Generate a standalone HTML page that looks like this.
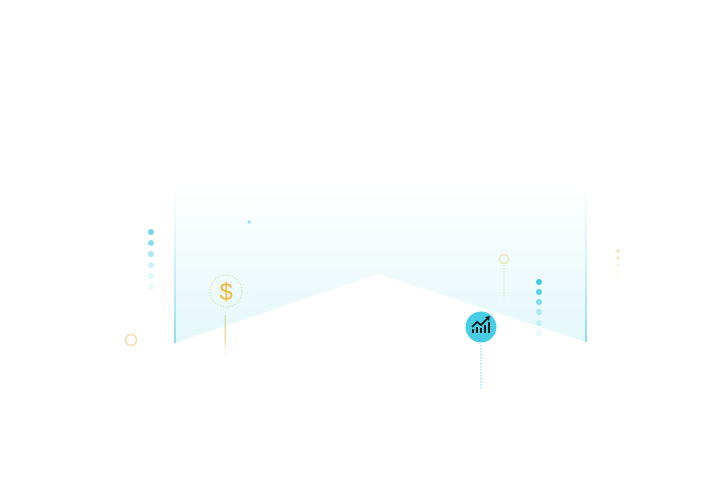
<!DOCTYPE html>
<html><head><meta charset="utf-8"><style>
html,body{margin:0;padding:0;background:#fff;width:711px;height:501px;overflow:hidden}
svg{display:block}
</style></head><body>
<svg width="711" height="501" viewBox="0 0 711 501" xmlns="http://www.w3.org/2000/svg">
<defs>
<linearGradient id="bg" x1="0" y1="0" x2="0" y2="1" gradientUnits="objectBoundingBox">
<stop offset="0" stop-color="#ffffff"/>
<stop offset="0.35" stop-color="#f5fcfd"/>
<stop offset="1" stop-color="#e4f7fa"/>
</linearGradient>
<linearGradient id="edge" x1="0" y1="0" x2="0" y2="1">
<stop offset="0" stop-color="#bfeef5" stop-opacity="0"/>
<stop offset="1" stop-color="#8fdfee"/>
</linearGradient>
<linearGradient id="yl" x1="0" y1="0" x2="0" y2="1">
<stop offset="0" stop-color="#cfe0b0"/>
<stop offset="0.5" stop-color="#f6d9a0"/>
<stop offset="1" stop-color="#fff" stop-opacity="0"/>
</linearGradient>
</defs>
<polygon points="175,185 586,185 586,342 378,274 175,343" fill="url(#bg)"/>
<rect x="174" y="185" width="2" height="158" fill="url(#edge)"/>
<rect x="585" y="185" width="2" height="157" fill="url(#edge)"/>
<!-- left dots -->
<g fill="#5fd0e6">
<circle cx="151" cy="232" r="3" opacity="0.85"/>
<circle cx="151" cy="243" r="3" opacity="0.75"/>
<circle cx="151" cy="254" r="3" opacity="0.55"/>
<circle cx="151" cy="265" r="3" opacity="0.3"/>
<circle cx="151" cy="276" r="3" opacity="0.2"/>
<circle cx="151" cy="287" r="3" opacity="0.1"/>
</g>
<circle cx="249" cy="222" r="1.6" fill="#8fdfee"/>
<!-- dollar -->
<circle cx="226" cy="291" r="16" fill="none" stroke="#d8e6b8" stroke-width="1.2" stroke-dasharray="1.5 1.5"/>
<text x="226" y="300" text-anchor="middle" font-family="Liberation Sans, sans-serif" font-size="24" fill="#f0b93a">$</text>
<rect x="224.5" y="315" width="1.5" height="48" fill="url(#yl)"/>
<circle cx="131" cy="340" r="5.5" fill="none" stroke="#f7d79a" stroke-width="1.3"/>
<!-- small circle right -->
<circle cx="504" cy="259" r="4.5" fill="none" stroke="#e6e3b8" stroke-width="1.2"/>
<line x1="504" y1="265" x2="504" y2="302" stroke="#d8e6c0" stroke-width="1" stroke-dasharray="1.5 1.5"/>
<!-- right dots -->
<g fill="#3cc7e0">
<circle cx="539" cy="282" r="3" opacity="0.95"/>
<circle cx="539" cy="292" r="3" opacity="0.85"/>
<circle cx="539" cy="302" r="3" opacity="0.6"/>
<circle cx="539" cy="312" r="3" opacity="0.35"/>
<circle cx="539" cy="323" r="3" opacity="0.2"/>
<circle cx="539" cy="333" r="3" opacity="0.1"/>
</g>
<g fill="#f3d79a">
<circle cx="618" cy="251" r="1.6" opacity="0.8"/>
<circle cx="618" cy="258" r="1.6" opacity="0.6"/>
<circle cx="618" cy="265" r="1.6" opacity="0.4"/>
<circle cx="618" cy="272" r="1.6" opacity="0.2"/>
<circle cx="618" cy="279" r="1.6" opacity="0.1"/>
</g>
<!-- chart circle -->
<circle cx="481" cy="327" r="15.5" fill="#46cde4"/>
<g fill="#1a1a1a">
<rect x="472" y="329" width="2" height="4"/>
<rect x="476" y="327" width="2" height="6"/>
<rect x="480" y="328" width="2" height="5"/>
<rect x="484" y="325" width="2" height="8"/>
<rect x="488" y="322" width="2" height="11"/>
</g>
<polyline points="472,327 477,322 481,325 488,318" fill="none" stroke="#1a1a1a" stroke-width="1.8"/>
<polygon points="485,317 490,316 489,321" fill="#1a1a1a"/>
<line x1="481" y1="345" x2="481" y2="390" stroke="#8fdcec" stroke-width="1.2" stroke-dasharray="1.5 1.5"/>
</svg>
</body></html>
